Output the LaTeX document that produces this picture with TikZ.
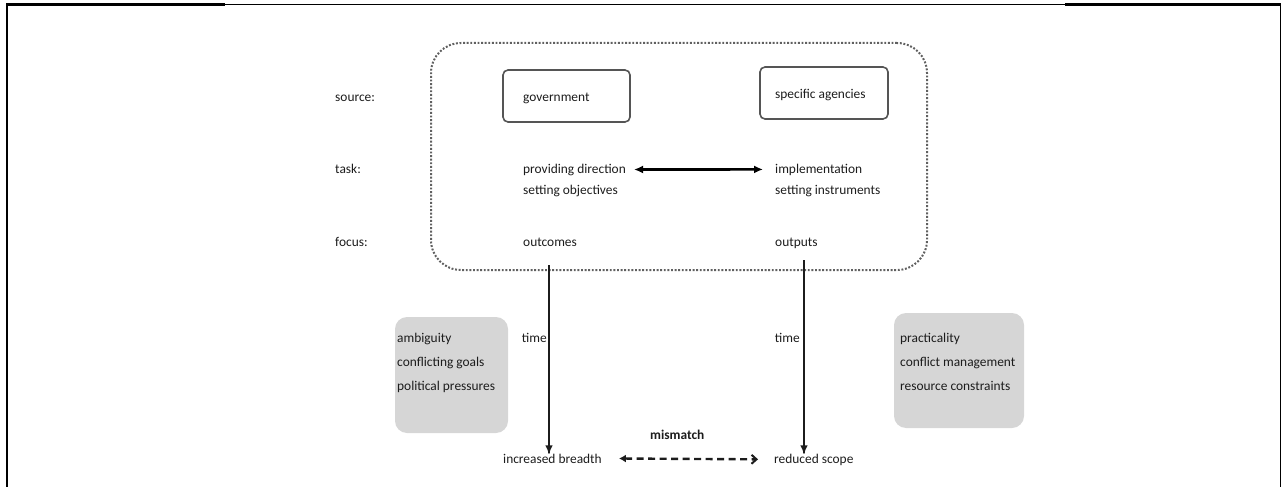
\documentclass[tikz,border=0pt]{standalone}
\usepackage{fontspec}
\setmainfont{Carlito}
\usetikzlibrary{arrows.meta}
\definecolor{ink}{HTML}{1C1C1C}
\definecolor{edge}{HTML}{555555}
\definecolor{dots}{HTML}{606060}
\definecolor{shade}{HTML}{D6D6D6}
\newcommand{\labelfont}{\fontsize{13.4}{16}\selectfont}
\begin{document}
\begin{tikzpicture}[x=1pt,y=-1pt,
  lbl/.style={anchor=base west,inner sep=0pt,text=ink,font=\labelfont},
  srcbox/.style={draw=edge,line width=1.6pt,rounded corners=5pt,inner sep=0pt},
  greybox/.style={fill=shade,rounded corners=12pt,inner sep=0pt},
  frame/.style={draw=dots,line width=2pt,dash pattern=on 1.9pt off 1.7pt,
    rounded corners=30pt,inner sep=0pt},
  flow/.style={draw=ink,line width=2.2pt,-{Latex[length=9pt,width=7.5pt]}},
  link/.style={draw=black,line width=2.6pt,{Latex[length=9pt,width=8pt]}-{Latex[length=9pt,width=8pt]}},
  clash/.style={draw=ink,line width=2.4pt,dash pattern=on 7pt off 4.5pt,
    {Latex[length=7pt,width=8pt]}-{Straight Barb[length=5pt,width=9pt,line width=2pt]}}]
\useasboundingbox (0,0) rectangle (1283,487);

% page rules
\draw[line width=2.6pt] (6,4.5) -- (225,4.5);
\draw[line width=1pt] (225,4.5) -- (1065,4.5);
\draw[line width=2.6pt] (1065,4.5) -- (1281,4.5);
\draw[line width=2.6pt] (6.8,3.2) -- (6.8,487);
\draw[line width=1.4pt] (1280.3,4) -- (1280.3,487);

% dotted frame around the two sources
\node[frame,minimum width=496pt,minimum height=227pt] (frame) at (679,156.5) {};

% row labels
\node[lbl] (source) at (335,102) {source:};
\node[lbl] (task) at (335,173) {task:};
\node[lbl] (focus) at (335,246) {focus:};

% the two sources
\node[srcbox,minimum width=127pt,minimum height=52pt] (govbox) at (566.5,96) {};
\node[lbl] (gov) at (523,101) {government};
\node[srcbox,minimum width=128pt,minimum height=52pt] (agencybox) at (824,93) {};
\node[lbl] (agency) at (775,99) {specific agencies};

% tasks
\node[lbl] (provdir) at (523,173) {providing direction};
\node[lbl] (setobj) at (523,194) {setting objectives};
\node[lbl] (impl) at (775,173) {implementation};
\node[lbl] (setinst) at (775,194) {setting instruments};
\draw[link,shorten <=8pt,shorten >=12pt] (provdir.east) -- (impl.west);

% focus
\node[lbl] (outcomes) at (523,246) {outcomes};
\node[lbl] (outputs) at (775,246) {outputs};

% results
\node[lbl] (breadth) at (503,463) {increased breadth};
\node[lbl] (scope) at (774,463) {reduced scope};
\node[lbl,font=\labelfont\bfseries] (mismatch) at (650,439) {mismatch};

% flows over time
\coordinate (ltop) at (549,265);
\coordinate (rtop) at (804,260);
\draw[flow] (ltop) -- (ltop |- breadth.north) -- +(0,-1pt);
\draw[flow] (rtop) -- (rtop |- scope.north) -- +(0,-1pt);
\node[lbl,anchor=base east] (ltime) at (547,342) {time};
\node[lbl,anchor=base east] (rtime) at (800,342) {time};

\draw[clash,shorten <=17pt,shorten >=16pt] (breadth.east) -- (scope.west);

% pressures on each side
\node[greybox,minimum width=113pt,minimum height=116pt] (lbox) at (451.5,375) {};
\node[lbl,align=left,font=\fontsize{13.4}{24}\selectfont] (lpress) at (397,390)
  {ambiguity\\conflicting goals\\political pressures};
\node[greybox,minimum width=130pt,minimum height=115pt] (rbox) at (959,370.5) {};
\node[lbl,align=left,font=\fontsize{13.4}{24}\selectfont] (rpress) at (900,390)
  {practicality\\conflict management\\resource constraints};
\end{tikzpicture}
\end{document}
